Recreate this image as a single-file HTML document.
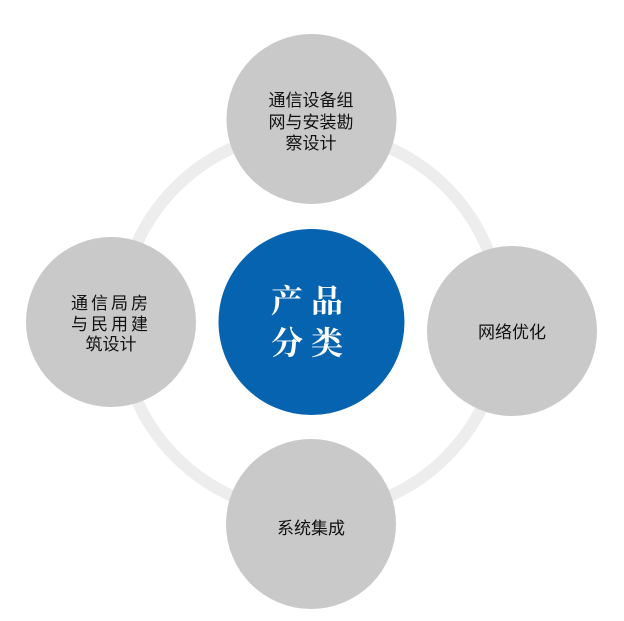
<!DOCTYPE html>
<html><head><meta charset="utf-8"><style>
body{margin:0;background:#fff;}
svg text{font-family:"Liberation Sans","Noto Sans CJK SC",sans-serif;fill:#111;font-size:17px;text-anchor:middle;}
</style></head><body>
<svg width="624" height="616" viewBox="0 0 624 616" xmlns="http://www.w3.org/2000/svg">
<circle cx="311" cy="322" r="191" fill="none" stroke="#ededed" stroke-width="12"/>
<circle cx="311.5" cy="119" r="85" fill="#c8c9c8"/>
<circle cx="111" cy="322" r="85" fill="#c8c9c8"/>
<circle cx="512" cy="331" r="85" fill="#c8c9c8"/>
<circle cx="311" cy="524" r="85" fill="#c8c9c8"/>
<circle cx="311.5" cy="322" r="93" fill="#0563b0"/>
<text x="311" y="106">通信设备组</text>
<text x="311" y="128">网与安装勘</text>
<text x="311" y="149">察设计</text>
<text x="111" y="309" letter-spacing="3">通信局房</text>
<text x="111" y="330" letter-spacing="3">与民用建</text>
<text x="111" y="350">筑设计</text>
<text x="512" y="338">网络优化</text>
<text x="311" y="534">系统集成</text>
<text x="311" y="312" style="font-family:'Noto Serif CJK SC',serif;font-weight:bold;font-size:32px;fill:#fff;" letter-spacing="8">产品</text>
<text x="311" y="354" style="font-family:'Noto Serif CJK SC',serif;font-weight:bold;font-size:32px;fill:#fff;" letter-spacing="8">分类</text>
</svg>
</body></html>
